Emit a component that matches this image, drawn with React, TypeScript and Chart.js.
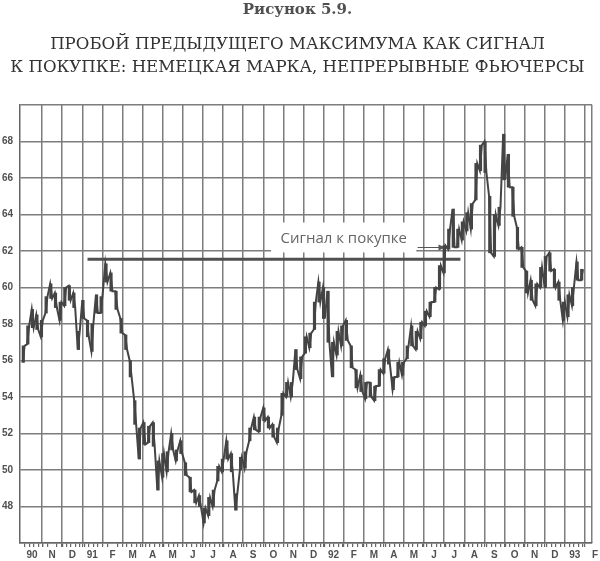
import React, { useEffect, useRef } from 'react';
import { Chart, registerables } from 'chart.js';

Chart.register(...registerables);

// ---- Text ----
const titleText = 'Рисунок 5.9.';
const subtitleLines = [
  'ПРОБОЙ ПРЕДЫДУЩЕГО МАКСИМУМА КАК СИГНАЛ',
  'К ПОКУПКЕ: НЕМЕЦКАЯ МАРКА, НЕПРЕРЫВНЫЕ ФЬЮЧЕРСЫ',
];
const signalText = 'Сигнал к покупке';

// ---- Categories (weeks, dated by their Wednesday) ----
const firstWeek = '1990-10-03';
const xRangeStart = '1990-09-28';
const xRangeEnd = '1993-02-11';

// ---- Month tick labels (Oct 1990 .. Feb 1993) ----
const monthLabels = ['90', 'N', 'D', '91', 'F', 'M', 'A', 'M', 'J', 'J', 'A', 'S', 'O', 'N', 'D',
  '92', 'F', 'M', 'A', 'M', 'J', 'J', 'A', 'S', 'O', 'N', 'D', '93', 'F'];

// ---- Y ticks ----
const yMin = 46;
const yMax = 70;
const yStep = 2;
const yLabels = [48, 50, 52, 54, 56, 58, 60, 62, 64, 66, 68];

// ---- Weekly price ranges (Deutsche mark continuous futures) ----
const weeklyLow = [
  55.9, 56.9, 57.8, 57.7, 57.3, 58.6, 59.4, 58.9, 58.2, 59.0,
  59.3, 58.9, 56.6, 58.3, 57.3, 56.5, 58.6, 58.6, 60.3, 59.8,
  58.8, 57.5, 56.6, 55.1, 52.5, 50.6, 51.4, 51.5, 51.3, 48.9,
  49.6, 49.9, 51.1, 50.5, 50.9, 49.7, 48.8, 48.2, 48.0, 47.1,
  47.5, 48.0, 49.4, 49.9, 50.6, 49.9, 47.8, 50.0, 50.1, 51.6,
  52.2, 52.1, 52.7, 52.3, 51.8, 51.5, 53.0, 54.0, 54.0, 55.5,
  55.0, 56.4, 56.7, 57.7, 59.2, 58.3, 57.0, 55.1, 56.3, 56.8,
  57.1, 55.6, 54.5, 54.3, 53.9, 54.0, 53.8, 54.6, 55.3, 55.8,
  54.4, 55.1, 55.2, 56.1, 56.8, 56.6, 57.2, 57.9, 58.4, 59.2,
  59.9, 60.8, 62.1, 62.2, 62.2, 62.6, 63.1, 63.2, 64.8, 66.4,
  66.3, 61.9, 61.7, 63.4, 65.9, 65.5, 63.9, 62.1, 61.1, 59.7,
  59.3, 59.0, 60.0, 60.0, 60.9, 60.0, 59.3, 58.2, 58.4, 59.0,
  60.4, 60.4,
];
const weeklyHigh = [
  56.8, 57.9, 58.8, 58.5, 58.2, 59.5, 60.2, 59.7, 59.2, 60.0,
  60.1, 59.7, 57.6, 59.3, 58.2, 58.0, 59.6, 59.5, 61.3, 60.8,
  59.8, 58.3, 57.4, 56.0, 53.8, 52.3, 52.6, 52.4, 52.6, 50.5,
  50.9, 51.0, 52.0, 51.1, 51.6, 50.4, 49.6, 48.9, 48.6, 47.9,
  48.5, 48.9, 50.2, 50.6, 51.6, 50.9, 48.7, 50.7, 51.0, 52.3,
  52.9, 52.9, 53.4, 52.9, 52.5, 52.3, 54.2, 54.8, 54.8, 56.6,
  56.2, 57.3, 57.5, 59.2, 60.3, 60.0, 59.8, 57.0, 57.6, 57.9,
  58.2, 56.8, 55.5, 55.2, 54.8, 54.8, 54.6, 55.5, 56.1, 56.6,
  55.1, 55.9, 55.9, 56.8, 57.9, 57.6, 58.1, 58.7, 59.2, 60.0,
  61.2, 62.3, 63.2, 64.3, 63.2, 63.6, 64.1, 64.6, 66.8, 67.8,
  68.0, 65.0, 64.0, 64.4, 68.4, 67.3, 65.5, 63.3, 62.2, 60.9,
  60.4, 60.2, 61.1, 61.7, 61.9, 61.0, 60.3, 59.2, 59.6, 60.0,
  61.4, 61.0,
];

// ---- Annotation ----
const signalLevel = 61.55;
const signalFrom = '1991-01-09';
const signalTo = '1992-07-26';
const noteBoxFrom = '1991-10-13';
const noteBoxTo = '1992-05-20';
const noteBoxLow = 61.92;
const noteBoxHigh = 63.56;
const noteTextLevel = 62.68;
const arrowLevel = 62.22;
const arrowFrom = '1992-05-22';
const arrowTo = '1992-07-03';

// month index: 0 = 1 Oct 1990
function monthIndex(s: string): number {
  const [y, m, d] = s.split('-').map(Number);
  const dim = new Date(Date.UTC(y, m, 0)).getUTCDate();
  return (y - 1990) * 12 + (m - 10) + (d - 1) / dim;
}

function addDays(s: string, n: number): string {
  const [y, m, d] = s.split('-').map(Number);
  const dt = new Date(Date.UTC(y, m - 1, d + n));
  return dt.toISOString().slice(0, 10);
}

const weekDates = weeklyLow.map((_, i) => addDays(firstWeek, i * 7));

// each week drawn as a low/high swing (Tuesday and Friday), like a dense daily bar chart
function buildPricePath() {
  const pts: { x: number; y: number }[] = [];
  weekDates.forEach((d, i) => {
    const mid = weeklyLow[i] + weeklyHigh[i];
    const next = i + 1 < weekDates.length ? weeklyLow[i + 1] + weeklyHigh[i + 1] : mid;
    const first = next >= mid ? weeklyLow[i] : weeklyHigh[i];
    const second = next >= mid ? weeklyHigh[i] : weeklyLow[i];
    pts.push({ x: monthIndex(addDays(d, -1)), y: first });
    pts.push({ x: monthIndex(addDays(d, 2)), y: second });
  });
  return pts;
}

const GRID = '#7d7d7d';
const INK = '#444444';
const TXT = '#505050';

function tickKind(v: number): string {
  const f = v - Math.floor(v);
  if (f < 1e-9 || 1 - f < 1e-9) return 'boundary';
  if (Math.abs(f - 0.5) < 1e-9) return 'label';
  return 'minor';
}

export default function App() {
  const ref = useRef<HTMLCanvasElement | null>(null);

  useEffect(() => {
    if (!ref.current) return;
    const xMin = monthIndex(xRangeStart);
    const xMax = monthIndex(xRangeEnd);

    const notePlugin = {
      id: 'signalNote',
      beforeDatasetsDraw(chart: any) {
        const { ctx, scales } = chart;
        const x = scales.x, y = scales.y;
        const x1 = x.getPixelForValue(monthIndex(noteBoxFrom));
        const x2 = x.getPixelForValue(monthIndex(noteBoxTo));
        const y1 = y.getPixelForValue(noteBoxHigh);
        const y2 = y.getPixelForValue(noteBoxLow);
        ctx.save();
        ctx.fillStyle = '#ffffff';
        ctx.fillRect(x1, y1, x2 - x1, y2 - y1);
        ctx.fillStyle = '#666666';
        ctx.font = '15px "Open Sans"';
        ctx.textAlign = 'center';
        ctx.textBaseline = 'middle';
        ctx.fillText(signalText, (x1 + x2) / 2, y.getPixelForValue(noteTextLevel));
        const ay = Math.round(y.getPixelForValue(arrowLevel)) + 0.5;
        const ax1 = x.getPixelForValue(monthIndex(arrowFrom));
        const ax2 = x.getPixelForValue(monthIndex(arrowTo));
        ctx.strokeStyle = '#555555';
        ctx.lineWidth = 1;
        ctx.beginPath();
        ctx.moveTo(ax1, ay);
        ctx.lineTo(ax2 - 5, ay);
        ctx.stroke();
        ctx.fillStyle = '#555555';
        ctx.beginPath();
        ctx.moveTo(ax2, ay);
        ctx.lineTo(ax2 - 7, ay - 3);
        ctx.lineTo(ax2 - 7, ay + 3);
        ctx.closePath();
        ctx.fill();
        ctx.restore();
      },
    };

    const chart = new Chart(ref.current, {
      type: 'line',
      data: {
        datasets: [
          {
            type: 'bar',
            data: weekDates.map((d, i) => ({ x: monthIndex(d), y: [weeklyLow[i], weeklyHigh[i]] })) as any,
            backgroundColor: INK,
            borderWidth: 0,
            barThickness: 2.5,
            grouped: false,
            xAxisID: 'x',
          } as any,
          {
            type: 'line',
            data: buildPricePath(),
            borderColor: INK,
            borderWidth: 2,
            pointRadius: 0,
            tension: 0,
            fill: false,
          } as any,
          {
            type: 'line',
            data: [
              { x: monthIndex(signalFrom), y: signalLevel },
              { x: monthIndex(signalTo), y: signalLevel },
            ],
            borderColor: '#505050',
            borderWidth: 3,
            pointRadius: 0,
          } as any,
        ],
      },
      options: {
        animation: false,
        responsive: false,
        layout: { padding: { left: 0, right: 5, top: 0, bottom: 0 } },
        plugins: {
          legend: { display: false },
          tooltip: { enabled: false },
          title: {
            display: true,
            text: titleText,
            color: TXT,
            font: { family: 'DejaVu Serif', size: 15, weight: 'bold', lineHeight: '18px' },
            padding: { top: 1, bottom: 14.5 },
          },
          subtitle: {
            display: true,
            text: subtitleLines,
            color: '#333333',
            font: { family: 'DejaVu Serif', size: 16.6, weight: 'normal', lineHeight: '23px' },
            padding: { top: 0, bottom: 25.5 },
          },
        },
        scales: {
          xg: {
            type: 'linear',
            position: 'bottom',
            min: xMin,
            max: xMax,
            offset: false,
            afterBuildTicks: (scale: any) => {
              const t: any[] = [];
              for (let k = 1; k <= Math.floor(xMax); k++) t.push({ value: k });
              t.push({ value: xMax });
              scale.ticks = t;
            },
            afterFit: (scale: any) => {
              scale.height = 0;
            },
            grid: { color: GRID, lineWidth: 1.5, drawTicks: false, offset: false },
            border: { display: false },
            ticks: { display: false },
          },
          x: {
            type: 'linear',
            position: 'bottom',
            min: xMin,
            max: xMax,
            offset: false,
            afterBuildTicks: (scale: any) => {
              const t: any[] = [];
              for (let k = 1; k <= Math.floor(xMax); k++) t.push({ value: k });
              monthLabels.forEach((_, k) => t.push({ value: k + 0.5 }));
              weekDates.forEach((d) => {
                const v = monthIndex(addDays(d, 2));
                if (v > xMin && v < xMax && tickKind(v) === 'minor') t.push({ value: v });
              });
              t.sort((a, b) => a.value - b.value);
              scale.ticks = t;
            },
            afterFit: (scale: any) => {
              scale.height = 18;
            },
            grid: {
              drawOnChartArea: false,
              offset: false,
              tickColor: (c: any) => {
                if (!c.tick) return 'rgba(0,0,0,0)';
                return tickKind(c.tick.value) === 'label' ? 'rgba(0,0,0,0)' : '#666666';
              },
              lineWidth: 1.2,
              tickLength: 4,
              drawTicks: true,
            },
            border: { display: true, color: '#666666', width: 1.5 },
            ticks: {
              autoSkip: false,
              maxRotation: 0,
              minRotation: 0,
              padding: 2,
              color: TXT,
              font: { family: 'Liberation Sans', size: 10, weight: 'bold' },
              callback: (v: any) => {
                const n = Number(v);
                if (tickKind(n) !== 'label') return '';
                return monthLabels[Math.round(n - 0.5)] || '';
              },
            },
          },
          y: {
            type: 'linear',
            min: yMin,
            max: yMax,
            afterFit: (scale: any) => {
              scale.width = 20;
            },
            grid: {
              color: GRID,
              lineWidth: 1.5,
              drawTicks: false,
            },
            border: { display: true, color: '#666666', width: 1.5 },
            ticks: {
              stepSize: yStep,
              padding: 7,
              color: TXT,
              font: { family: 'Liberation Sans', size: 10, weight: 'bold' },
              callback: (v: any) => (yLabels.includes(Number(v)) ? String(v) : ''),
            },
          },
        },
      } as any,
      plugins: [notePlugin],
    });
    return () => chart.destroy();
  }, []);

  return (
    <div style={{ position: 'absolute', left: 0, top: 0, width: 600, height: 561, background: '#fff' }}>
      <canvas ref={ref} width={600} height={561} style={{ display: 'block' }} />
    </div>
  );
}
